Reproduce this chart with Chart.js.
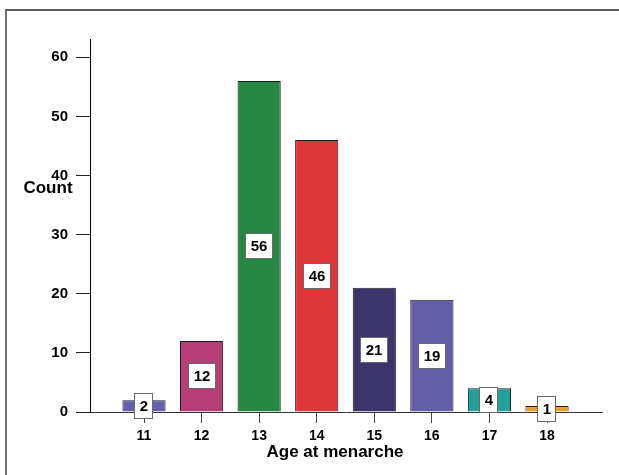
<!DOCTYPE html>
<html>
<head>
<meta charset="utf-8">
<script src="https://cdn.jsdelivr.net/npm/chart.js@4/dist/chart.umd.min.js"></script>
<style>
  html, body { margin: 0; padding: 0; background: #fff; }
  #wrap { position: relative; width: 619px; height: 475px; }
  #frame { position: absolute; left: 5px; top: 9px; right: 0; bottom: 0;
           border-left: 2px solid #707070; border-top: 2px solid #5a5a5a; pointer-events: none; }
  canvas { position: absolute; left: 0; top: 0; }
</style>
</head>
<body>
<div id="wrap">
  <canvas id="chart" width="619" height="475"></canvas>
  <div id="frame"></div>
</div>
<script>
// Age at menarche histogram
const ages = [11, 12, 13, 14, 15, 16, 17, 18];
const counts = [2, 12, 56, 46, 21, 19, 4, 1];
const barColors = ['#6461ac', '#b83c75', '#268643', '#e0363a', '#3b356b', '#625fa8', '#259f99', '#eea024'];
const yTicks = [0, 10, 20, 30, 40, 50, 60];

const FONT = '"Liberation Sans", Arial, sans-serif';

// white boxes with the count in the middle of each bar
const valueBoxes = {
    id: 'valueBoxes',
    afterDatasetsDraw(chart) {
        const ctx = chart.ctx;
        const meta = chart.getDatasetMeta(0);
        ctx.save();
        ctx.font = 'bold 15px ' + FONT;
        ctx.textAlign = 'center';
        ctx.textBaseline = 'middle';
        meta.data.forEach((bar, i) => {
            const text = String(counts[i]);
            const w = Math.round(ctx.measureText(text).width + 11);
            const h = 26;
            const cx = Math.round(bar.x);
            const cy = Math.round((bar.y + bar.base) / 2);
            const x0 = cx - Math.round(w / 2), y0 = cy - h / 2;
            ctx.fillStyle = '#fff';
            ctx.fillRect(x0, y0, w, h);
            ctx.strokeStyle = '#6a6a6a';
            ctx.lineWidth = 1;
            ctx.strokeRect(x0 + 0.5, y0 + 0.5, w - 1, h - 1);
            ctx.fillStyle = '#000';
            ctx.fillText(text, cx, cy + 1);
        });
        ctx.restore();
    }
};

// axis titles: "Count" sits horizontally beside the y axis
const axisTitles = {
    id: 'axisTitles',
    afterDraw(chart) {
        const { ctx, chartArea } = chart;
        ctx.save();
        ctx.font = 'bold 17px ' + FONT;
        ctx.fillStyle = '#000';
        ctx.textAlign = 'center';
        ctx.textBaseline = 'middle';
        ctx.fillText('Count', chartArea.left - 42, chartArea.top + 149);
        ctx.fillText('Age at menarche', chartArea.left + 245, chartArea.bottom + 40);
        ctx.restore();
    }
};

new Chart(document.getElementById('chart'), {
    type: 'bar',
    data: {
        datasets: [{
            data: ages.map((a, i) => ({ x: a, y: counts[i] })),
            backgroundColor: barColors,
            borderColor: '#1a1a1a',
            borderWidth: 1,
            barPercentage: 0.75,
            categoryPercentage: 1
        }]
    },
    options: {
        responsive: false,
        animation: false,
        layout: { padding: { top: 39, right: 17, left: 0, bottom: 0 } },
        plugins: { legend: { display: false }, tooltip: { enabled: false } },
        scales: {
            x: {
                type: 'linear',
                min: 10.062,
                max: 18.955,
                offset: false,
                afterBuildTicks: axis => { axis.ticks = ages.map(v => ({ value: v })); },
                afterFit: scale => { scale.height = 63; },
                grid: { offset: false, drawOnChartArea: false, drawTicks: true, tickLength: 11, tickColor: '#444' },
                border: { color: '#333', width: 1 },
                ticks: { color: '#000', font: { family: FONT, size: 14, weight: 'bold' }, padding: 5, maxRotation: 0 }
            },
            y: {
                min: 0,
                max: 63.1,
                afterBuildTicks: axis => { axis.ticks = yTicks.map(v => ({ value: v })); },
                afterFit: scale => { scale.width = 90; },
                grid: { drawOnChartArea: false, drawTicks: true, tickLength: 14, tickColor: '#222' },
                border: { color: '#000', width: 1 },
                ticks: { color: '#000', font: { family: FONT, size: 15, weight: 'bold' }, padding: 8 }
            }
        }
    },
    plugins: [valueBoxes, axisTitles]
});
</script>
</body>
</html>
